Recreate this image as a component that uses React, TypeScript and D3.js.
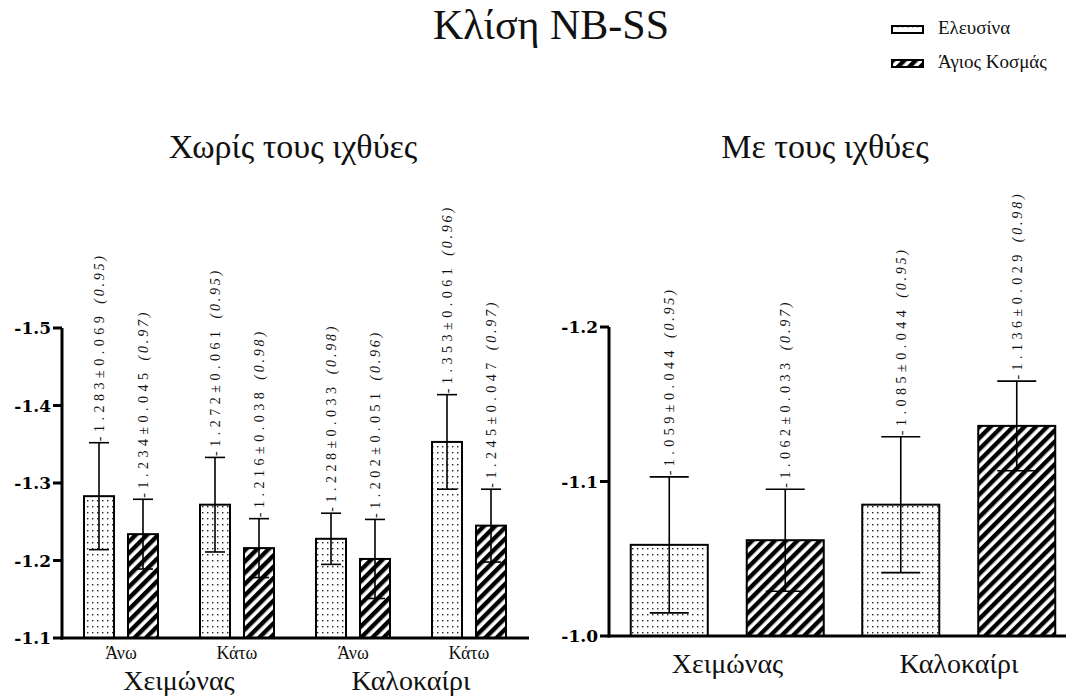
import React from 'react';
import * as d3 from 'd3';

// ---------- data ----------
const series = ['Ελευσίνα', 'Άγιος Κοσμάς'];

// Left panel: Χωρίς τους ιχθύες
const leftSeasons = ['Χειμώνας', 'Καλοκαίρι'];
const leftSub = ['Άνω', 'Κάτω'];
const leftCats = ['Χειμώνας-Άνω', 'Χειμώνας-Κάτω', 'Καλοκαίρι-Άνω', 'Καλοκαίρι-Κάτω'];
const leftElefsinaMean = [-1.283, -1.272, -1.228, -1.353];
const leftElefsinaSd = [0.069, 0.061, 0.033, 0.061];
const leftElefsinaR = ['0.95', '0.95', '0.98', '0.96'];
const leftAgiosMean = [-1.234, -1.216, -1.202, -1.245];
const leftAgiosSd = [0.045, 0.038, 0.051, 0.047];
const leftAgiosR = ['0.97', '0.98', '0.96', '0.97'];
const leftTicks = [-1.1, -1.2, -1.3, -1.4, -1.5];
const leftTickLabels = ['-1.1', '-1.2', '-1.3', '-1.4', '-1.5'];

// Right panel: Με τους ιχθύες
const rightCats = ['Χειμώνας', 'Καλοκαίρι'];
const rightElefsinaMean = [-1.059, -1.085];
const rightElefsinaSd = [0.044, 0.044];
const rightElefsinaR = ['0.95', '0.95'];
const rightAgiosMean = [-1.062, -1.136];
const rightAgiosSd = [0.033, 0.029];
const rightAgiosR = ['0.97', '0.98'];
const rightTicks = [-1.0, -1.1, -1.2];
const rightTickLabels = ['-1.0', '-1.1', '-1.2'];

const LS = { fontFamily: 'Liberation Serif' };
const TICKSTYLE = { fontFamily: 'DejaVu Serif', fontWeight: 700 };

type Row = { cat: string; s: number; mean: number; sd: number; r: string };

function buildRows(cats: string[], m0: number[], s0: number[], r0: string[], m1: number[], s1: number[], r1: string[]): Row[] {
  const rows: Row[] = [];
  cats.forEach((c, i) => {
    rows.push({ cat: c, s: 0, mean: m0[i], sd: s0[i], r: r0[i] });
    rows.push({ cat: c, s: 1, mean: m1[i], sd: s1[i], r: r1[i] });
  });
  return rows;
}

function Panel(props: {
  rows: Row[];
  cats: string[];
  xRange: [number, number];
  innerRange: [number, number];
  innerPad: number;
  yDomain: [number, number];
  yRange: [number, number];
  axisX: number;
  axisEnd: number;
  ticks: number[];
  tickLabels: string[];
  capW: number;
}) {
  const { rows, cats, xRange, innerRange, innerPad, yDomain, yRange, axisX, axisEnd, ticks, tickLabels, capW } = props;
  const x = d3.scaleBand<string>().domain(cats).range(xRange).padding(0);
  const xi = d3.scaleBand<string>().domain(series).range(innerRange).paddingInner(innerPad).paddingOuter(0);
  const y = d3.scaleLinear().domain(yDomain).range(yRange);
  const base = y(yDomain[0]);
  const bw = xi.bandwidth();
  return (
    <g>
      {rows.map((d, i) => {
        const bx = (x(d.cat) as number) + (xi(series[d.s]) as number);
        const cx = bx + bw / 2;
        const top = y(d.mean);
        const eTop = y(d.mean - d.sd);
        const eBot = y(d.mean + d.sd);
        const txt = `${d.mean.toFixed(3)}±${d.sd.toFixed(3)} `;
        return (
          <g key={i}>
            <rect x={bx} y={top} width={bw} height={base - top} fill={d.s === 0 ? 'url(#dots)' : 'url(#hatch)'} stroke="#000" strokeWidth={2} />
            <line x1={cx} x2={cx} y1={eTop} y2={eBot} stroke="#000" strokeWidth={1.6} />
            <line x1={cx - capW / 2} x2={cx + capW / 2} y1={eTop} y2={eTop} stroke="#000" strokeWidth={1.6} />
            <line x1={cx - capW / 2} x2={cx + capW / 2} y1={eBot} y2={eBot} stroke="#000" strokeWidth={1.6} />
            <text
              transform={`translate(${cx},${eTop - 1.5}) rotate(-90)`}
              dominantBaseline="central"
              fontSize={14}
              fill="#111"
              style={LS}
            >
              <tspan letterSpacing={4.5}>{txt}</tspan>
              <tspan fontStyle="italic" letterSpacing={2.8}>({d.r})</tspan>
            </text>
          </g>
        );
      })}
      {/* axes */}
      <line x1={axisX} x2={axisX} y1={yRange[1]} y2={base + 1.5} stroke="#000" strokeWidth={3} />
      <line x1={axisX - 1.5} x2={axisEnd} y1={base} y2={base} stroke="#000" strokeWidth={3} />
      {ticks.map((t, i) => (
        <g key={i}>
          <line x1={axisX - 9} x2={axisX} y1={y(t)} y2={y(t)} stroke="#000" strokeWidth={3} />
          <text x={axisX - 11} y={y(t)} textAnchor="end" dominantBaseline="central" style={TICKSTYLE} fontSize={17} fill="#000">
            {tickLabels[i]}
          </text>
        </g>
      ))}
    </g>
  );
}

export default function App() {
  const leftRows = buildRows(leftCats, leftElefsinaMean, leftElefsinaSd, leftElefsinaR, leftAgiosMean, leftAgiosSd, leftAgiosR);
  const rightRows = buildRows(rightCats, rightElefsinaMean, rightElefsinaSd, rightElefsinaR, rightAgiosMean, rightAgiosSd, rightAgiosR);

  const xl = d3.scaleBand<string>().domain(leftCats).range([63, 527]);
  const xr = d3.scaleBand<string>().domain(rightCats).range([611.75, 1074.75]);

  return (
    <div style={{ position: 'absolute', left: 0, top: 0, width: 1072, height: 698 }}>
      <svg width={1072} height={698} style={{ display: 'block' }}>
        <defs>
          <pattern id="dots" width={5} height={6} patternUnits="userSpaceOnUse">
            <rect width={5} height={6} fill="#fff" />
            <rect x={2} y={2} width={1.4} height={1.4} fill="#222" />
          </pattern>
          <pattern id="hatch" width={8} height={8} patternUnits="userSpaceOnUse" patternTransform="rotate(45)">
            <rect width={8} height={8} fill="#fff" />
            <rect x={0} y={0} width={4.4} height={8} fill="#000" />
          </pattern>
        </defs>
        <rect width={1072} height={698} fill="#fff" />

        {/* titles */}
        <text x={551} y={39} textAnchor="middle" fontSize={42} fill="#111" style={LS}>Κλίση NB-SS</text>
        <text x={293} y={158} textAnchor="middle" fontSize={34} fill="#111" style={LS}>Χωρίς τους ιχθύες</text>
        <text x={825} y={158} textAnchor="middle" fontSize={34} fill="#111" style={LS}>Με τους ιχθύες</text>

        {/* legend */}
        {series.map((s, i) => (
          <g key={s}>
            <rect x={892} y={26 + i * 34} width={31} height={7} fill={i === 0 ? 'url(#dots)' : 'url(#hatch)'} stroke="#000" strokeWidth={2} />
            <text x={938} y={34 + i * 34} fontSize={19} fill="#111" style={LS}>{s}</text>
          </g>
        ))}

        <Panel
          rows={leftRows}
          cats={leftCats}
          xRange={[63, 527]}
          innerRange={[21, 95]}
          innerPad={0.318}
          yDomain={[-1.1, -1.5]}
          yRange={[638, 328]}
          axisX={62}
          axisEnd={529}
          ticks={leftTicks}
          tickLabels={leftTickLabels}
          capW={20}
        />
        <Panel
          rows={rightRows}
          cats={rightCats}
          xRange={[611.75, 1074.75]}
          innerRange={[19, 212]}
          innerPad={0.336}
          yDomain={[-1.0, -1.2]}
          yRange={[636, 327]}
          axisX={609}
          axisEnd={1066}
          ticks={rightTicks}
          tickLabels={rightTickLabels}
          capW={39}
        />

        {/* left x labels */}
        {leftCats.map((c, i) => (
          <text key={c} x={(xl(c) as number) + xl.bandwidth() / 2} y={659} textAnchor="middle" fontSize={18} fill="#111" style={LS}>
            {leftSub[i % 2]}
          </text>
        ))}
        {leftSeasons.map((s, i) => {
          const a = xl(leftCats[i * 2]) as number;
          const b = (xl(leftCats[i * 2 + 1]) as number) + xl.bandwidth();
          return (
            <text key={s} x={(a + b) / 2} y={690} textAnchor="middle" fontSize={28} fill="#111" style={LS}>{s}</text>
          );
        })}
        {/* right x labels */}
        {rightCats.map((c) => (
          <text key={c} x={(xr(c) as number) + xr.bandwidth() / 2} y={673} textAnchor="middle" fontSize={28} fill="#111" style={LS}>{c}</text>
        ))}
      </svg>
    </div>
  );
}
